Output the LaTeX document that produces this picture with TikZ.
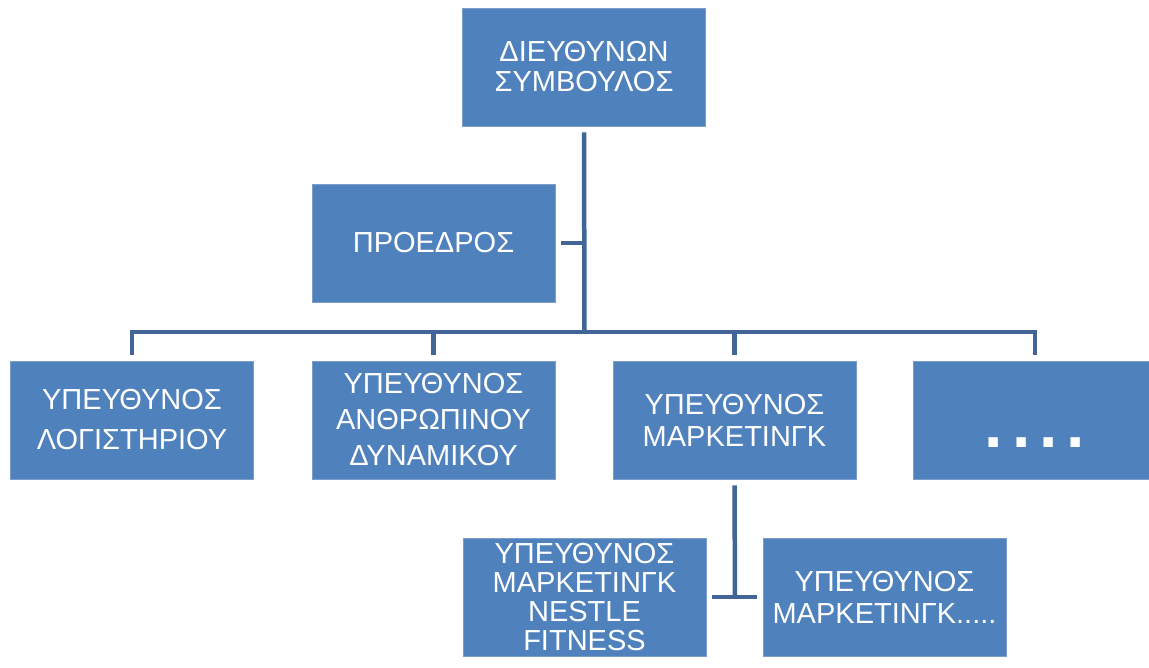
\documentclass[tikz,border=0pt]{standalone}
\usepackage{fontspec}
\setmainfont{Liberation Sans}
\definecolor{boxblue}{RGB}{79,129,189}
\definecolor{boxedge}{RGB}{125,158,205}
\definecolor{linkblue}{RGB}{64,101,150}
\tikzset{
  orgbox/.style={draw=boxedge, line width=0.8pt, fill=boxblue, text=white,
    minimum width=243pt, minimum height=118pt, inner sep=0pt, align=center,
    font=\fontsize{29}{34}\selectfont},
  conn/.style={draw=linkblue, line width=4.5pt, line cap=butt, line join=miter}
}
\begin{document}
\begin{tikzpicture}[x=1pt,y=-1pt]
\useasboundingbox (0,0) rectangle (1149,668);
\fill[white] (0,0) rectangle (1149,668);
\node[orgbox, font=\fontsize{29}{30}\selectfont] (ceo) at (584,67) {ΔΙΕΥΘΥΝΩΝ\\ΣΥΜΒΟΥΛΟΣ};
\node[orgbox] (pres) at (433.5,243) {ΠΡΟΕΔΡΟΣ};
\node[orgbox, font=\fontsize{29}{40}\selectfont] (b1) at (132,420) {ΥΠΕΥΘΥΝΟΣ\\ΛΟΓΙΣΤΗΡΙΟΥ};
\node[orgbox, font=\fontsize{29}{36}\selectfont] (b2) at (433.5,420) {ΥΠΕΥΘΥΝΟΣ\\ΑΝΘΡΩΠΙΝΟΥ\\ΔΥΝΑΜΙΚΟΥ};
\node[orgbox, font=\fontsize{29}{32}\selectfont] (b3) at (734.5,420) {ΥΠΕΥΘΥΝΟΣ\\ΜΑΡΚΕΤΙΝΓΚ};
\node[orgbox] (b4) at (1035,420) {};
\node[text=white, inner sep=0pt, font=\fontsize{66}{66}\bfseries\selectfont] (dots) at (1035,443) {.\hspace{9pt}.\hspace{9pt}.\hspace{9pt}.};
\node[orgbox, font=\fontsize{29}{29}\selectfont] (b5) at (584.5,597) {ΥΠΕΥΘΥΝΟΣ\\ΜΑΡΚΕΤΙΝΓΚ\\NESTLE\\FITNESS};
\node[orgbox, font=\fontsize{29}{32}\selectfont] (b6) at (884.5,597) {ΥΠΕΥΘΥΝΟΣ\\ΜΑΡΚΕΤΙΝΓΚ.....};
\coordinate (bus) at (584.5,332);
\coordinate (mk) at (735,597);
\draw[conn] ([yshift=-6pt]ceo.south) -- (bus);
\draw[conn] ([xshift=6pt]pres.east) -- (pres.east -| bus);
\draw[conn] ([yshift=6pt]b1.north) |- (bus) -| ([yshift=6pt]b4.north);
\draw[conn] ([yshift=6pt]b2.north) -- (b2.north |- bus);
\draw[conn] ([yshift=6pt]b3.north) -- (b3.north |- bus);
\draw[conn] ([yshift=-6pt]b3.south) -- (mk);
\draw[conn] ([xshift=6pt]b5.east) -- ([xshift=-6pt]b6.west);
\end{tikzpicture}
\end{document}
